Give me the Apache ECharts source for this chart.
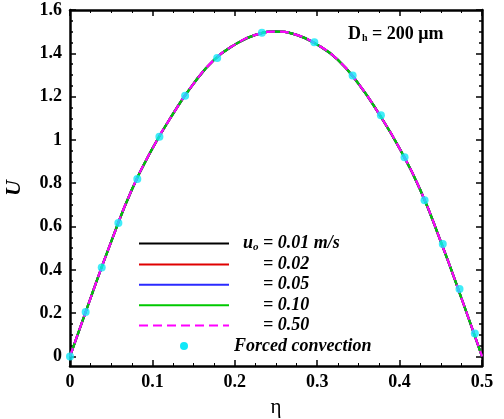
<!DOCTYPE html>
<html lang="en">
<head>
    <meta charset="utf-8">
    <script src="https://cdn.jsdelivr.net/npm/echarts@6/dist/echarts.min.js"></script>
    <style>
        html, body { margin: 0; padding: 0; background: #fff; }
        #chart { width: 504px; height: 419px; }
    </style>
</head>
<body>
    <div id="chart"></div>
    <script>
        // velocity profile (all five inlet velocities overlap)
        const eta = [0, 0.025, 0.05, 0.075, 0.1, 0.125, 0.15, 0.175, 0.2, 0.225, 0.25,
            0.275, 0.3, 0.325, 0.35, 0.375, 0.4, 0.425, 0.45, 0.475, 0.5]
        const uProfile = [0, 0.27, 0.53, 0.77, 0.96, 1.12, 1.26, 1.37, 1.44, 1.485, 1.5,
            1.485, 1.44, 1.37, 1.26, 1.12, 0.96, 0.77, 0.53, 0.27, 0]
        // forced convection markers
        const forcedEta = [0, 0.019, 0.0385, 0.0587, 0.0817, 0.1085, 0.1397, 0.1786, 0.2329,
            0.2965, 0.343, 0.3773, 0.406, 0.4303, 0.4524, 0.4727, 0.4913]
        const forcedU = [0, 0.205, 0.411, 0.616, 0.819, 1.015, 1.204, 1.378, 1.495,
            1.451, 1.297, 1.114, 0.92, 0.722, 0.519, 0.312, 0.106]
        const velocities = ['0.01 m/s', '0.02', '0.05', '0.10', '0.50']
        const lineColors = ['#000000', '#e00000', '#2a2aff', '#00c800', '#ff00ff']
        const yMajor = [0, 0.2, 0.4, 0.6, 0.8, 1, 1.2, 1.4, 1.6]
        const yMinor = []
        for (let k = 1; k < 32; k++) if (k % 4) yMinor.push(+(k * 0.05).toFixed(2))

        const FONT = 'Liberation Serif'
        const Y_MIN = -0.044, Y_MAX = 1.6
        const FORCED = 'Forced convection'

        const names = velocities.map((v, i) => 'u' + i)
        const lineSeries = velocities.map((v, i) => ({
            name: names[i],
            type: 'line',
            data: eta.map((x, j) => [x, uProfile[j]]),
            smooth: true,
            symbol: 'none',
            itemStyle: { color: lineColors[i] },
            lineStyle: { color: lineColors[i], width: 2.2, type: i == 4 ? [9, 5] : 'solid' },
            z: 2 + i
        }))

        function yAxisDef(pos, values, len, showLine, showLabel) {
            return {
                type: 'value', position: pos, min: Y_MIN, max: Y_MAX,
                axisLine: { show: showLine, onZero: false, lineStyle: { color: '#000', width: 2.5 } },
                axisTick: { show: true, inside: true, length: len, customValues: values, lineStyle: { color: '#000', width: 1.5 } },
                axisLabel: {
                    show: showLabel, customValues: values, margin: 8,
                    fontFamily: FONT, fontWeight: 'bold', fontSize: 18, color: '#000'
                },
                splitLine: { show: false }
            }
        }

        const bi = { fontFamily: FONT, fontWeight: 'bold', fontStyle: 'italic', fontSize: 18, color: '#000', lineHeight: 16 }

        let chart = echarts.init(document.querySelector('#chart'))
        chart.setOption({
            animation: false,
            grid: { left: 70, right: 22, top: 10, bottom: 53, outerBoundsMode: 'none', containLabel: false },
            title: {
                text: '{d|D}{s|h}{d| = 200 μm}',
                left: 343, top: 20,
                textStyle: {
                    rich: {
                        d: { fontFamily: FONT, fontWeight: 'bold', fontSize: 18, color: '#000', lineHeight: 18 },
                        s: { fontFamily: FONT, fontWeight: 'bold', fontSize: 10, color: '#000', lineHeight: 18, padding: [9, 0, 0, 1] }
                    }
                }
            },
            legend: {
                data: names.map(n => ({ name: n, itemStyle: { opacity: 0 } }))
                    .concat([{ name: FORCED, icon: 'circle', itemStyle: { color: '#10e8f8', opacity: 1 } }]),
                orient: 'vertical',
                left: 133, top: 229,
                itemWidth: 90, itemHeight: 8, itemGap: 2.4,
                selectedMode: false,
                textStyle: Object.assign({}, bi, {
                    rich: {
                        sp1: { width: 9, lineHeight: 16 },
                        sp2: { width: 29, lineHeight: 16 },
                        t: bi,
                        sub: Object.assign({}, bi, { fontSize: 11, lineHeight: 8, padding: [8, 0, 0, 0] })
                    }
                }),
                formatter: function (name) {
                    if (name == FORCED) return '{t|' + FORCED + '}'
                    let i = names.indexOf(name)
                    if (i == 0) return '{sp1|}{t|u}{sub|o}{t| = ' + velocities[0] + '}'
                    return '{sp2|}{t|= ' + velocities[i] + '}'
                }
            },
            xAxis: [{
                type: 'value', min: 0, max: 0.5, interval: 0.1, position: 'bottom',
                name: 'η', nameLocation: 'middle', nameGap: 31,
                nameTextStyle: { fontFamily: FONT, fontSize: 21, color: '#000' },
                axisLine: { onZero: false, lineStyle: { color: '#000', width: 2.5 } },
                axisTick: { inside: true, length: 6, lineStyle: { color: '#000', width: 1.5 } },
                minorTick: { show: true, splitNumber: 4, length: 3, lineStyle: { color: '#000', width: 1 } },
                axisLabel: { margin: 7, fontFamily: FONT, fontWeight: 'bold', fontSize: 18, color: '#000' },
                splitLine: { show: false }
            }, {
                type: 'value', min: 0, max: 0.5, interval: 0.1, position: 'top',
                axisLine: { onZero: false, lineStyle: { color: '#000', width: 2.5 } },
                axisTick: { inside: true, length: 6, lineStyle: { color: '#000', width: 1.5 } },
                minorTick: { show: true, splitNumber: 4, length: 3, lineStyle: { color: '#000', width: 1 } },
                axisLabel: { show: false },
                splitLine: { show: false }
            }],
            yAxis: [
                Object.assign(yAxisDef('left', yMajor, 6, true, true), {
                    name: 'U', nameLocation: 'middle', nameGap: 45, nameRotate: 90,
                    nameTextStyle: { fontFamily: FONT, fontWeight: 'bold', fontStyle: 'italic', fontSize: 22, color: '#000' }
                }),
                yAxisDef('left', yMinor, 3, false, false),
                yAxisDef('right', yMajor, 6, true, false),
                yAxisDef('right', yMinor, 3, false, false)
            ],
            series: lineSeries.concat([{
                name: FORCED,
                type: 'scatter',
                data: forcedEta.map((x, j) => [x, forcedU[j]]),
                symbolSize: 8,
                itemStyle: { color: '#10e8f8' },
                z: 10
            }])
        })
    </script>
</body>
</html>
